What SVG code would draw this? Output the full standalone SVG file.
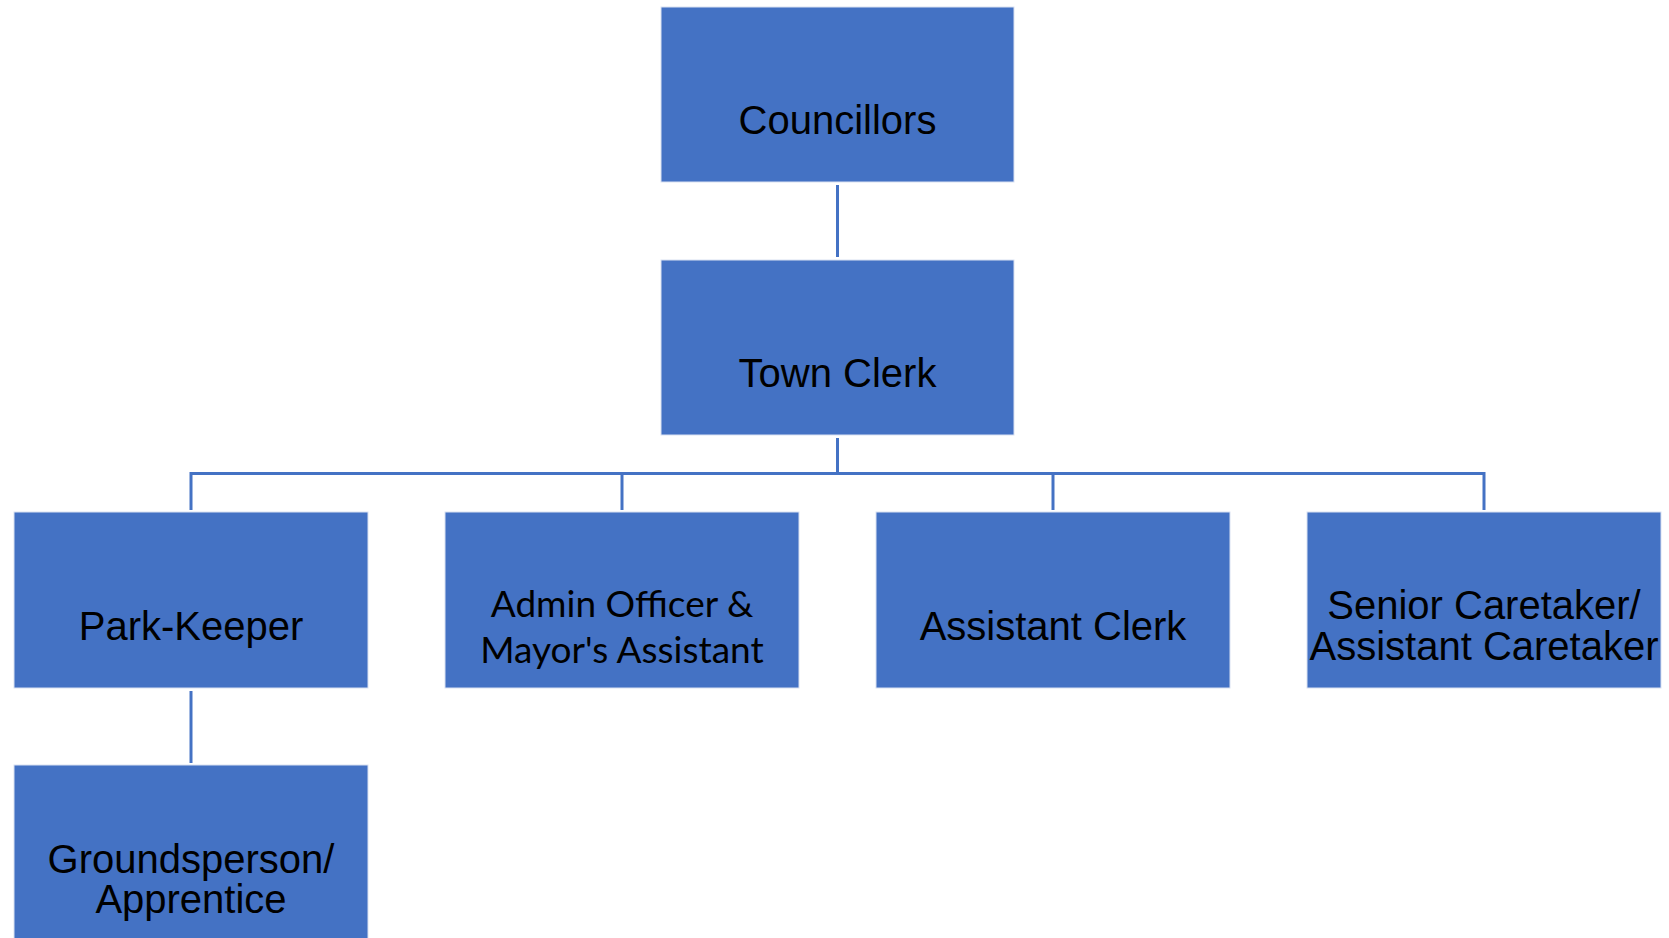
<svg xmlns="http://www.w3.org/2000/svg" width="1669" height="938" viewBox="0 0 1669 938">
<style>
.box{fill:#4472C4;stroke:#D9E1F2;stroke-width:1}
.t{font-family:"Liberation Sans",Arial,sans-serif;font-size:40px;fill:#000;text-anchor:middle}
.c{font-family:Lato,"Liberation Sans",sans-serif;font-size:37px;fill:#000;text-anchor:middle}
.ln{stroke:#4472C4;stroke-width:3;fill:none}
</style>
<rect width="1669" height="938" fill="#fff"/>
<g id="connectors">
<path class="ln" d="M837.5 185V257"/>
<path class="ln" d="M837.5 438V473.5"/>
<path class="ln" d="M191 510V473.5H1484V510"/>
<path class="ln" d="M622 473.5V510"/>
<path class="ln" d="M1053 473.5V510"/>
<path class="ln" d="M191 691V763"/>
</g>
<g id="councillors"><rect class="box" x="661" y="7" width="353" height="175"/><text class="t" x="837.5" y="134">Councillors</text></g>
<g id="town-clerk"><rect class="box" x="661" y="260" width="353" height="175"/><text class="t" x="837.5" y="387">Town Clerk</text></g>
<g id="park-keeper"><rect class="box" x="14" y="512" width="354" height="176"/><text class="t" x="191" y="640">Park-Keeper</text></g>
<g id="admin-officer"><rect class="box" x="445" y="512" width="354" height="176"/><text class="c" x="622" y="617">Admin Officer &amp;</text><text class="c" x="622" y="663">Mayor's Assistant</text></g>
<g id="assistant-clerk"><rect class="box" x="876" y="512" width="354" height="176"/><text class="t" x="1053" y="640">Assistant Clerk</text></g>
<g id="senior-caretaker"><rect class="box" x="1307" y="512" width="354" height="176"/><text class="t" x="1484" y="619">Senior Caretaker/</text><text class="t" x="1484" y="660">Assistant Caretaker</text></g>
<g id="groundsperson"><rect class="box" x="14" y="765" width="354" height="180"/><text class="t" x="191" y="873">Groundsperson/</text><text class="t" x="191" y="913">Apprentice</text></g>
</svg>
